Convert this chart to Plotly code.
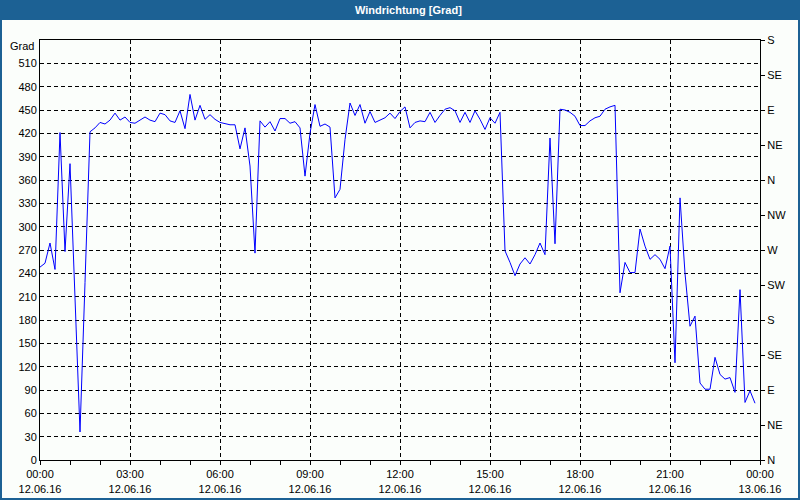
import plotly.graph_objects as go
import pandas as pd

# Wind direction in degrees, 10-minute samples from 12.06.16 00:00
values = [
    248, 253, 279, 245, 421, 268, 381, 205, 36, 228,
    422, 427, 434, 432, 437, 446, 437, 441, 434, 433,
    437, 441, 437, 435, 446, 444, 436, 434, 449, 426,
    470, 437, 456, 438, 444, 438, 434, 432, 431, 431,
    400, 427, 378, 266, 436, 428, 435, 423, 439, 439,
    433, 435, 427, 365, 420, 457, 429, 432, 428, 337,
    348, 412, 459, 443, 457, 433, 448, 434, 437, 440,
    446, 439, 448, 454, 427, 434, 436, 435, 447, 434,
    443, 451, 453, 449, 434, 447, 434, 449, 438, 425,
    440, 433, 447, 269, 254, 237, 252, 260, 252, 264,
    279, 264, 414, 278, 451, 450, 447, 442, 430, 430,
    436, 440, 442, 451, 454, 456, 215, 254, 241, 241,
    297, 275, 258, 264, 258, 246, 275, 125, 337, 240,
    172, 185, 99, 91, 91, 132, 110, 104, 106, 87,
    219, 74, 89, 73,
]
start = "2016-06-12 00:00"
end = "2016-06-13 00:00"
times = pd.date_range(start, periods=len(values), freq="10min")

left_ticks = list(range(0, 540, 30))
right_vals = list(range(0, 541, 45))
right_text = ["N", "NE", "E", "SE", "S", "SW", "W", "NW", "N", "NE", "E", "SE", "S"]

title_text = "Windrichtung [Grad]"
unit_text = "Grad"

FONT = "Liberation Sans, Arial, sans-serif"
BG = "#fbfefb"
BAR = "#1c6194"

fig = go.Figure()
fig.add_trace(go.Scatter(x=times, y=values, mode="lines",
                         line=dict(color="#0000ff", width=1),
                         showlegend=False, hoverinfo="skip"))
fig.add_trace(go.Scatter(x=[times[0]], y=[0], mode="markers", yaxis="y2",
                         marker=dict(opacity=0), showlegend=False, hoverinfo="skip"))

W, H = 800, 500
L, R, T, B = 40, 40, 40, 40
pw, ph = W - L - R, H - T - B

def px(x):
    return (x - L) / pw

def py(y):
    return (H - B - y) / ph

fig.update_layout(
    width=W, height=H,
    margin=dict(l=L, r=R, t=T, b=B, autoexpand=False),
    paper_bgcolor=BG, plot_bgcolor=BG,
    font=dict(family=FONT, size=11, color="black"),
    xaxis=dict(
        type="date", range=[start, end], tick0=start, dtick=3 * 3600 * 1000,
        tickformat="%H:%M<br>%d.%m.%y", automargin=False,
        showgrid=True, gridcolor="black", gridwidth=1, griddash="4px,3px",
        showline=True, linecolor="black", linewidth=1, mirror=True,
        ticks="outside", ticklen=4, tickcolor="black",
        minor=dict(dtick=3600 * 1000, ticks="outside", ticklen=4, tickcolor="black", showgrid=False),
        zeroline=False, tickfont=dict(family=FONT, size=11, color="black"),
    ),
    yaxis=dict(
        range=[0, 540], tickmode="array", tickvals=left_ticks, automargin=False,
        showgrid=True, gridcolor="black", gridwidth=1, griddash="4px,3px",
        showline=True, linecolor="black", linewidth=1, mirror=True,
        ticks="", zeroline=False, tickfont=dict(family=FONT, size=11, color="black"),
    ),
    yaxis2=dict(
        overlaying="y", side="right", range=[0, 540], tickmode="array",
        tickvals=right_vals, ticktext=right_text, automargin=False,
        showgrid=False, showline=True, linecolor="black", linewidth=1,
        ticks="outside", ticklen=4, tickcolor="black", zeroline=False,
        tickfont=dict(family=FONT, size=11, color="black"),
    ),
    shapes=[
        dict(type="rect", xref="paper", yref="paper",
             x0=px(0), x1=px(W), y0=py(H), y1=py(0),
             line=dict(color=BAR, width=4), fillcolor="rgba(0,0,0,0)"),
        dict(type="rect", xref="paper", yref="paper",
             x0=px(0), x1=px(W), y0=py(20), y1=py(0),
             line=dict(width=0), fillcolor=BAR),
    ],
    annotations=[
        dict(text="<b>" + title_text + "</b>", xref="paper", yref="paper",
             x=px(408), y=py(10), xanchor="center", yanchor="middle",
             showarrow=False, font=dict(family=FONT, size=11, color="white")),
        dict(text=unit_text, xref="paper", yref="paper",
             x=px(36), y=py(46), xanchor="right", yanchor="middle",
             showarrow=False, font=dict(family=FONT, size=11, color="black")),
    ],
)

fig.write_html(
    "out.html",
    config={"displayModeBar": False, "staticPlot": True},
    post_script="document.body.style.margin='0';document.body.style.overflow='hidden';",
)
